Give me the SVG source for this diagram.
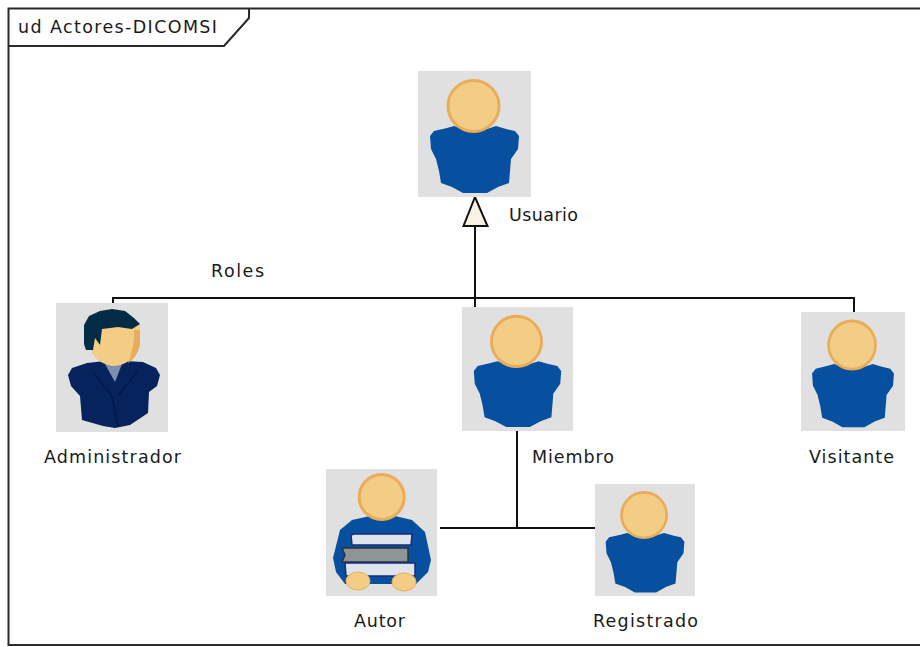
<svg xmlns="http://www.w3.org/2000/svg" xmlns:xlink="http://www.w3.org/1999/xlink" width="920" height="647" viewBox="0 0 920 647">
<style>
text{font-family:"DejaVu Sans","Liberation Sans",sans-serif;font-size:17.500px;fill:#1a1a1a}
.tile{fill:#e0e0e0}
.line{fill:none;stroke:#111;stroke-width:2}
.frame{fill:none;stroke:#2a2a2a;stroke-width:2}
.body{fill:#07509f}
.head{fill:#f3cd85;stroke:#e9ad5a;stroke-width:3}
.suit{fill:#06235e}
.book{fill:#dfe3ea;stroke:#1c2a7c;stroke-width:1.500}
</style>
<defs>
<symbol id="user" viewBox="0 0 113 126" preserveAspectRatio="none">
<rect class="tile" width="113" height="126"/>
<path class="body" d="M12 65L16 60L29 57L36 55L45 58L69 58L78 55L88 58L97 60L101 65L100 78L93 88L92 100L91 112L80 116L69 122L45 122L34 116L23 112L21 100L18 88L13 78Z"/>
<circle class="head" cx="55.500" cy="35" r="25.500"/>
</symbol>
</defs>
<rect width="920" height="647" fill="#fff"/>
<g id="frame">
<path class="frame" d="M920 8.500H8.500V645H920"/>
<path class="frame" d="M8.500 46H224L249 18V8.500"/>
<text x="18" y="33" textLength="199">ud Actores-DICOMSI</text>
</g>
<g id="connectors">
<path class="line" d="M113 303V298H854V312"/>
<path class="line" d="M475 307V226"/>
<path d="M475 197L463.500 226H487.500Z" fill="#faf3e4" stroke="#111" stroke-width="2"/>
<path class="line" d="M517 431V528"/>
<path class="line" d="M440 528H595"/>
</g>
<g id="usuario">
<use xlink:href="#user" x="418" y="71" width="113" height="126"/>
<text x="509" y="221" textLength="69">Usuario</text>
</g>
<g id="roles"><text x="211" y="277" textLength="53">Roles</text></g>
<g id="administrador">
<rect class="tile" x="56" y="303" width="112" height="129"/>
<path class="suit" d="M68 375L72 368L87 363L105 361L125 361L143 362L156 368L160 375L157 386L149 392L148 413L130 425L115 428L103 426L82 420L80 396L71 386Z"/>
<path d="M105 364H122L115 382Z" fill="#7d8fae"/>
<path d="M90 345Q92 362 112 366Q132 366 140 345V322H90Z" fill="#f3cd85"/>
<path d="M134 330H140V345Q137 358 128 363Q135 345 134 330Z" fill="#e9ad5a"/>
<path d="M84 344L84 325L89 316L100 311L112 309L125 311L134 318L140 324L132 329L118 327L102 329L100 345L95 338L93 350L86 350Z" fill="#032c45"/>
<path d="M93 372L112 396L118 427M137 372L118 396" fill="none" stroke="#031748" stroke-width="1.500"/>
<text x="44" y="463" textLength="137">Administrador</text>
</g>
<g id="miembro">
<use xlink:href="#user" x="462" y="307" width="111" height="124"/>
<text x="532" y="463" textLength="82">Miembro</text>
</g>
<g id="visitante">
<use xlink:href="#user" x="801" y="312" width="104" height="119"/>
<text x="809" y="463" textLength="85">Visitante</text>
</g>
<g id="autor">
<rect class="tile" x="326" y="469" width="111" height="127"/>
<path class="body" d="M333 558L340 530L352 520L370 516L395 516L412 520L425 532L431 560L428 572L416 584L345 584L336 572Z"/>
<circle class="head" cx="381.700" cy="497" r="22.500"/>
<path class="book" d="M351 535L354 534H412L411 545H352Z"/>
<path d="M342 548H408V562H342L345 555Z" fill="#8e9597" stroke="#2c3236" stroke-width="1.500"/>
<path class="book" d="M345 563H415V576H346Z"/>
<ellipse cx="358" cy="581" rx="12" ry="9" fill="#f3cd85" stroke="#e9ad5a"/>
<ellipse cx="404" cy="582" rx="12" ry="9" fill="#f3cd85" stroke="#e9ad5a"/>
<text x="354" y="627" textLength="51">Autor</text>
</g>
<g id="registrado">
<use xlink:href="#user" x="595" y="484" width="100" height="112"/>
<text x="593" y="627" textLength="105">Registrado</text>
</g>
</svg>
